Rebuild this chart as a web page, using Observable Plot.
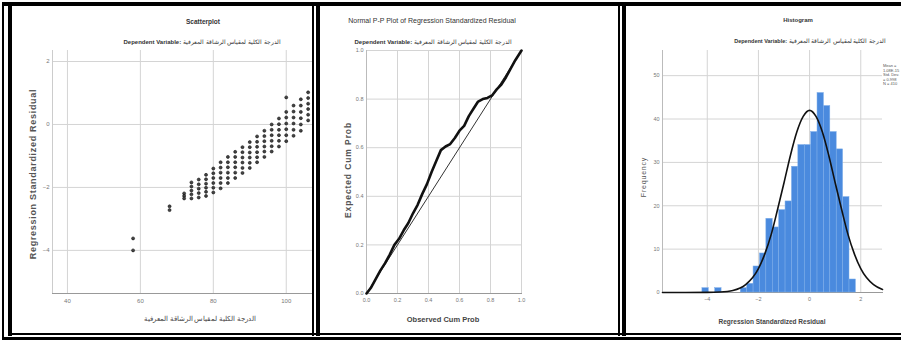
<!DOCTYPE html>
<html><head><meta charset="utf-8">
<script src="https://cdn.jsdelivr.net/npm/d3@7"></script>
<script src="https://cdn.jsdelivr.net/npm/@observablehq/plot@0.6"></script>
<style>
body{margin:0;background:#fff;font-family:"Liberation Sans",Arial,sans-serif;}
#page{position:relative;width:901px;height:340px;overflow:hidden;background:#fff;}
.b{position:absolute;background:#000;}
.cell{position:absolute;top:6px;height:327px;overflow:hidden;background:#fff;}
.cell svg{position:absolute;left:0;top:0;}
.t{position:absolute;white-space:nowrap;color:#333;transform:translate(-50%,-50%);line-height:1;}
.r{transform:translate(-50%,-50%) rotate(-90deg);}
.leg{position:absolute;white-space:nowrap;color:#555;font-size:4px;line-height:4.6px;}
</style></head>
<body><div id="page">
  <div class="cell" id="c1" style="left:12px;width:300px;"></div>
  <div class="cell" id="c2" style="left:320px;width:298px;"></div>
  <div class="cell" id="c3" style="left:626px;width:275px;"></div>

  <div class="b" style="left:2px;top:2px;width:899px;height:4px;"></div>
  <div class="b" style="left:2px;top:2px;width:2px;height:337px;"></div>
  <div class="b" style="left:8px;top:2px;width:4px;height:334px;"></div>
  <div class="b" style="left:312px;top:2px;width:2px;height:334px;"></div>
  <div class="b" style="left:316px;top:2px;width:4px;height:334px;"></div>
  <div class="b" style="left:618px;top:2px;width:2px;height:334px;"></div>
  <div class="b" style="left:622px;top:2px;width:4px;height:334px;"></div>
  <div class="b" style="left:8px;top:333px;width:893px;height:2px;"></div>
  <div class="b" style="left:2px;top:337px;width:899px;height:3px;"></div>

  <div class="t" style="left:203px;top:22px;font-size:6.5px;font-weight:bold;">Scatterplot</div>
  <div class="t" style="left:202px;top:42px;font-size:6px;"><b>Dependent Variable:</b> <span dir="rtl">الدرجة الكلية لمقياس الرشاقة المعرفية</span></div>
  <div class="t r" style="left:33px;top:174px;font-size:9px;font-weight:bold;color:#555;letter-spacing:0.7px;">Regression Standardized Residual</div>
  <div class="t" style="left:200px;top:318px;font-size:7px;color:#444;" dir="rtl">الدرجة الكلية لمقياس الرشاقة المعرفية</div>

  <div class="t" style="left:432px;top:20px;font-size:7px;">Normal P-P Plot of Regression Standardized Residual</div>
  <div class="t" style="left:433px;top:42px;font-size:6px;"><b>Dependent Variable:</b> <span dir="rtl">الدرجة الكلية لمقياس الرشاقة المعرفية</span></div>
  <div class="t r" style="left:348px;top:170px;font-size:8.5px;font-weight:bold;color:#555;letter-spacing:0.9px;">Expected Cum Prob</div>
  <div class="t" style="left:443px;top:320px;font-size:7.5px;font-weight:bold;color:#444;">Observed Cum Prob</div>

  <div class="t" style="left:798px;top:20px;font-size:6px;font-weight:bold;">Histogram</div>
  <div class="t" style="left:810px;top:42px;font-size:5.5px;"><b>Dependent Variable:</b> <span dir="rtl">الدرجة الكلية لمقياس الرشاقة المعرفية</span></div>
  <div class="t r" style="left:643px;top:177px;font-size:7px;color:#555;letter-spacing:0.8px;">Frequency</div>
  <div class="t" style="left:772px;top:322px;font-size:6.5px;font-weight:bold;color:#444;">Regression Standardized Residual</div>
  <div class="leg" style="left:883px;top:64px;">Mean =<br>1.08E-15<br>Std. Dev.<br>= 0.998<br>N = 410</div>
</div>
<script>
// ---------- Scatterplot data ----------
const scatterXTicks = [40, 60, 80, 100];
const scatterYTicks = [-4, -2, 0, 2];
const scatterScores = [58, 68, 72, 74, 76, 78, 80, 82, 84, 86, 88, 90, 92, 94, 96, 98, 100, 102, 104, 106];
const scatterResiduals = [
  [-3.62, -4.0],
  [-2.6, -2.72],
  [-2.19, -2.27, -2.35],
  [-1.84, -1.97, -2.1, -2.22, -2.35],
  [-1.75, -1.9, -2.04, -2.18, -2.32],
  [-1.6, -1.74, -1.88, -2.01, -2.14, -2.27],
  [-1.4, -1.55, -1.7, -1.86, -2.01, -2.16],
  [-1.2, -1.37, -1.53, -1.7, -1.86, -2.03],
  [-1.03, -1.2, -1.36, -1.53, -1.7, -1.86],
  [-0.87, -1.03, -1.2, -1.36, -1.53, -1.7],
  [-0.72, -0.88, -1.05, -1.21, -1.38, -1.54],
  [-0.56, -0.72, -0.89, -1.05, -1.22, -1.38],
  [-0.38, -0.55, -0.71, -0.88, -1.04, -1.2],
  [-0.2, -0.37, -0.53, -0.7, -0.86, -1.03],
  [0.0, -0.17, -0.34, -0.52, -0.69, -0.86],
  [0.19, 0.01, -0.17, -0.34, -0.52, -0.7],
  [0.86, 0.4, 0.22, 0.03, -0.15, -0.34, -0.53],
  [0.6, 0.41, 0.22, 0.03, -0.17, -0.36],
  [0.8, 0.6, 0.4, 0.2, 0.0, -0.2],
  [1.02, 0.84, 0.66, 0.49, 0.31, 0.13]
];

// ---------- P-P plot data ----------
const ppTicks = [0, 0.2, 0.4, 0.6, 0.8, 1.0];
const ppDiagonal = [0, 1];
const ppObserved = [0, 0.03, 0.06, 0.09, 0.12, 0.15, 0.18, 0.21, 0.24, 0.27, 0.30, 0.33, 0.36, 0.39, 0.42, 0.45, 0.48, 0.51, 0.54, 0.57, 0.60, 0.63, 0.66, 0.69, 0.72, 0.75, 0.78, 0.81, 0.84, 0.87, 0.90, 0.93, 0.96, 1.0];
const ppExpected = [0, 0.025, 0.06, 0.095, 0.125, 0.16, 0.2, 0.225, 0.26, 0.29, 0.33, 0.365, 0.41, 0.45, 0.5, 0.545, 0.59, 0.605, 0.615, 0.64, 0.67, 0.69, 0.73, 0.76, 0.79, 0.80, 0.805, 0.815, 0.84, 0.86, 0.89, 0.925, 0.96, 1.0];

// ---------- Histogram data ----------
const histXTicks = [-4, -2, 0, 2];
const histYTicks = [0, 10, 20, 30, 40, 50];
const histBinStart = [-4.19, -3.69, -2.69, -2.44, -2.19, -1.94, -1.69, -1.44, -1.19, -0.94, -0.69, -0.44, -0.19, 0.06, 0.31, 0.56, 0.81, 1.06, 1.31, 1.56];
const histCounts = [1, 1, 1, 2, 6, 9, 17, 15, 19, 21, 29, 34, 34, 37, 46, 43, 37, 33, 22, 3];
const histBinWidth = 0.25;
const normalX = [-5.75, -4, -3.5, -3, -2.5, -2, -1.75, -1.5, -1.25, -1, -0.75, -0.5, -0.25, 0, 0.25, 0.5, 0.75, 1, 1.25, 1.5, 1.75, 2, 2.5, 2.85];
const normalY = [0, 0.02, 0.1, 0.45, 1.8, 5.5, 8.9, 13.4, 19.2, 25.3, 31.6, 37, 40.6, 42, 40.6, 37, 31.6, 25.3, 19.2, 13.4, 8.9, 5.5, 1.8, 0.7];

const FONT = '"Liberation Sans", Arial, sans-serif';
const GRID = "#d4d4d4";

// Scatterplot
const scatterPoints = scatterScores.flatMap((s, i) => scatterResiduals[i].map(r => ({score: s, residual: r})));
const p1 = Plot.plot({
  width: 300, height: 327,
  marginLeft: 40, marginRight: 0, marginTop: 44, marginBottom: 40,
  style: {fontFamily: FONT, fontSize: "6px", color: "#777", background: "transparent"},
  x: {domain: [35.9, 107.2]},
  y: {domain: [-5.37, 2.35]},
  marks: [
    Plot.gridX(scatterXTicks, {stroke: GRID, strokeOpacity: 1}),
    Plot.gridY(scatterYTicks, {stroke: GRID, strokeOpacity: 1}),
    Plot.frame({anchor: "left", stroke: "#ccc"}),
    Plot.frame({anchor: "bottom", stroke: "#999"}),
    Plot.axisX(scatterXTicks, {tickSize: 0, tickPadding: 5, label: null, fill: "#777"}),
    Plot.axisY(scatterYTicks, {tickSize: 0, tickPadding: 3, label: null, fill: "#777"}),
    Plot.dot(scatterPoints, {x: "score", y: "residual", r: 1.5, fill: "#444", stroke: "#111", strokeWidth: 0.6})
  ]
});
document.getElementById("c1").appendChild(p1);

// P-P plot
const ppData = ppObserved.map((o, i) => ({obs: o, exp: ppExpected[i]}));
const p2 = Plot.plot({
  width: 298, height: 327,
  marginLeft: 46, marginRight: 97, marginTop: 44, marginBottom: 40,
  style: {fontFamily: FONT, fontSize: "5.5px", color: "#777", background: "transparent"},
  x: {domain: [0, 1]},
  y: {domain: [0, 1]},
  marks: [
    Plot.gridX(ppTicks, {stroke: GRID, strokeOpacity: 1}),
    Plot.gridY(ppTicks, {stroke: GRID, strokeOpacity: 1}),
    Plot.frame({anchor: "left", stroke: "#bbb"}),
    Plot.frame({anchor: "bottom", stroke: "#999"}),
    Plot.axisX(ppTicks, {tickSize: 0, tickPadding: 5, label: null, tickFormat: d3.format(".1f"), fill: "#777"}),
    Plot.axisY(ppTicks, {tickSize: 0, tickPadding: 3, label: null, tickFormat: d3.format(".1f"), fill: "#777"}),
    Plot.line(ppDiagonal, {x: d => d, y: d => d, stroke: "#333", strokeWidth: 1}),
    Plot.line(ppData, {x: "obs", y: "exp", stroke: "#111", strokeWidth: 2.6, curve: "linear"})
  ]
});
document.getElementById("c2").appendChild(p2);

// Histogram
const histData = histBinStart.map((s, i) => ({x1: s, x2: s + histBinWidth, count: histCounts[i]}));
const normalData = normalX.map((x, i) => ({x, y: normalY[i]}));
const p3 = Plot.plot({
  width: 275, height: 327,
  marginLeft: 36, marginRight: 19, marginTop: 44, marginBottom: 41,
  style: {fontFamily: FONT, fontSize: "5.5px", color: "#777", background: "transparent"},
  x: {domain: [-5.75, 2.85]},
  y: {domain: [0, 55.8]},
  marks: [
    Plot.gridX(histXTicks, {stroke: GRID, strokeOpacity: 1}),
    Plot.gridY(histYTicks, {stroke: GRID, strokeOpacity: 1}),
    Plot.frame({anchor: "left", stroke: "#bbb"}),
    Plot.frame({anchor: "bottom", stroke: "#999"}),
    Plot.axisX(histXTicks, {tickSize: 0, tickPadding: 5, label: null, fill: "#777"}),
    Plot.axisY(histYTicks, {tickSize: 0, tickPadding: 3, label: null, fill: "#777"}),
    Plot.rectY(histData, {x1: "x1", x2: "x2", y: "count", fill: "#4a8ade", stroke: "#7eaee9", strokeWidth: 0.5}),
    Plot.line(normalData, {x: "x", y: "y", stroke: "#111", strokeWidth: 1.6, curve: "monotone-x"})
  ]
});
document.getElementById("c3").appendChild(p3);
</script>
</body></html>
